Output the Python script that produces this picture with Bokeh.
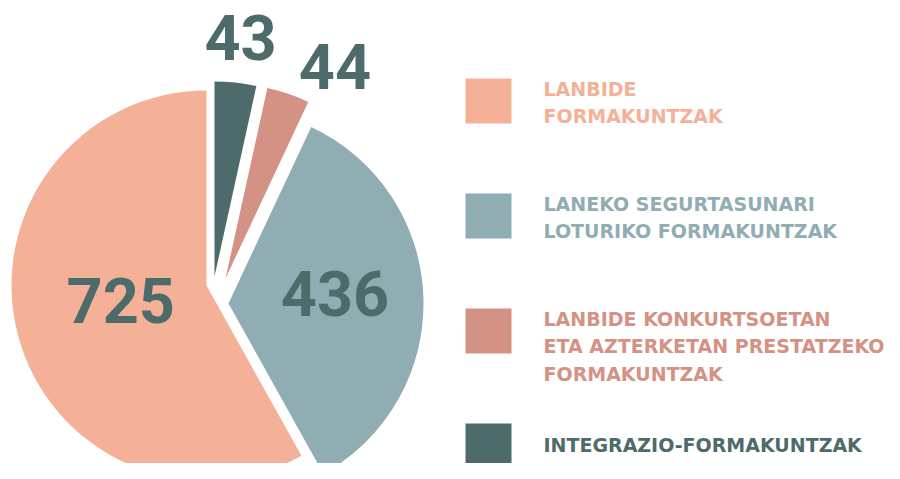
import math
from bokeh.plotting import figure
from bokeh.models import Range1d, ColumnDataSource
from bokeh.core.properties import value
from bokeh.embed import file_html
from bokeh.resources import INLINE

# ---------------- data ----------------
categories = [
    "Lanbide formakuntzak",
    "Laneko segurtasunari loturiko formakuntzak",
    "Lanbide konkurtsoetan eta azterketan prestatzeko formakuntzak",
    "Integrazio-formakuntzak",
]
legend_lines = [
    ["LANBIDE", "FORMAKUNTZAK"],
    ["LANEKO SEGURTASUNARI", "LOTURIKO FORMAKUNTZAK"],
    ["LANBIDE KONKURTSOETAN", "ETA AZTERKETAN PRESTATZEKO", "FORMAKUNTZAK"],
    ["INTEGRAZIO-FORMAKUNTZAK"],
]
values = [725, 436, 44, 43]
labels = ["725", "436", "44", "43"]

# ---------------- style / layout ----------------
colors = ["#F5B197", "#8FADB3", "#D39283", "#4D6B6A"]
label_color = "#4D6B6A"
W_FIG, H_FIG = 884, 463
H = 479                       # image height (data y = H - y_img)
base_center = (206, 285)      # image px
radius = 195
explode = [(0, 0), (22, 18), (19, -7), (8, -9)]     # image px offsets per slice
label_r = [87, 107, 239, 241]
label_adj = [5.0, -3.6, 8.5, 0.0]                    # degrees
label_font_px = 63
cap = 0.71 * label_font_px
base_fix = 0.35               # baseline correction, in em

# pie drawn clockwise from 12 o'clock, starting with the last category
order = [3, 2, 1, 0]
total = float(sum(values))

theta0, theta1 = {}, {}
cum = 0.0
for i in order:
    theta0[i] = cum / total * 360.0
    cum += values[i]
    theta1[i] = cum / total * 360.0

xs, ys, starts, ends, fills = [], [], [], [], []
lx, ly, ltxt = [], [], []
for i in range(len(values)):
    cx = base_center[0] + explode[i][0]
    cy = H - (base_center[1] + explode[i][1])
    xs.append(cx)
    ys.append(cy)
    starts.append(math.radians(90 - theta1[i]))
    ends.append(math.radians(90 - theta0[i]))
    fills.append(colors[i])
    mid = (theta0[i] + theta1[i]) / 2 + label_adj[i]
    tx = cx + label_r[i] * math.sin(math.radians(mid))
    ty = cy + label_r[i] * math.cos(math.radians(mid)) - cap / 2 + base_fix * label_font_px
    lx.append(tx)
    ly.append(ty)
    ltxt.append(labels[i])

p = figure(width=W_FIG, height=H_FIG, x_range=Range1d(0, W_FIG), y_range=Range1d(H - H_FIG, H),
           output_backend="svg", toolbar_location=None, min_border=0,
           x_axis_location=None, y_axis_location=None)
p.grid.visible = False
p.outline_line_color = None
p.background_fill_color = "white"

src = ColumnDataSource(dict(x=xs, y=ys, start=starts, end=ends, color=fills, cat=categories))
p.wedge(x="x", y="y", radius=radius, start_angle="start", end_angle="end",
        direction="anticlock", fill_color="color", line_color=None, source=src)

p.text(x=lx, y=ly, text=ltxt, text_align="center", text_baseline="alphabetic",
       text_font=value("Roboto"), text_font_style="bold",
       text_font_size=f"{label_font_px}px", text_color=label_color)

# ---------------- legend ----------------
sq_x, sq_w, sq_h = 488, 46, 45
top0, step = 78, 115
text_x = 543
legend_font_px = 19
line_gap = 27.5
for k in range(len(categories)):
    top = top0 + k * step
    center = top + sq_h / 2
    p.rect(x=[sq_x], y=[H - center], width=sq_w, height=sq_h,
           fill_color=colors[k], line_color=None)
    n = len(legend_lines[k])
    first = max(center + 6 - (n - 1) * line_gap / 2, top + 17)
    tys = [H - (first + j * line_gap) + base_fix * legend_font_px for j in range(n)]
    p.text(x=[text_x] * n, y=tys, text=legend_lines[k], text_align="left",
           text_baseline="alphabetic", text_font=value("DejaVu Sans"),
           text_font_style="bold", text_font_size=f"{legend_font_px}px",
           text_color=colors[k])

open("out.html", "w").write(file_html(p, INLINE))
